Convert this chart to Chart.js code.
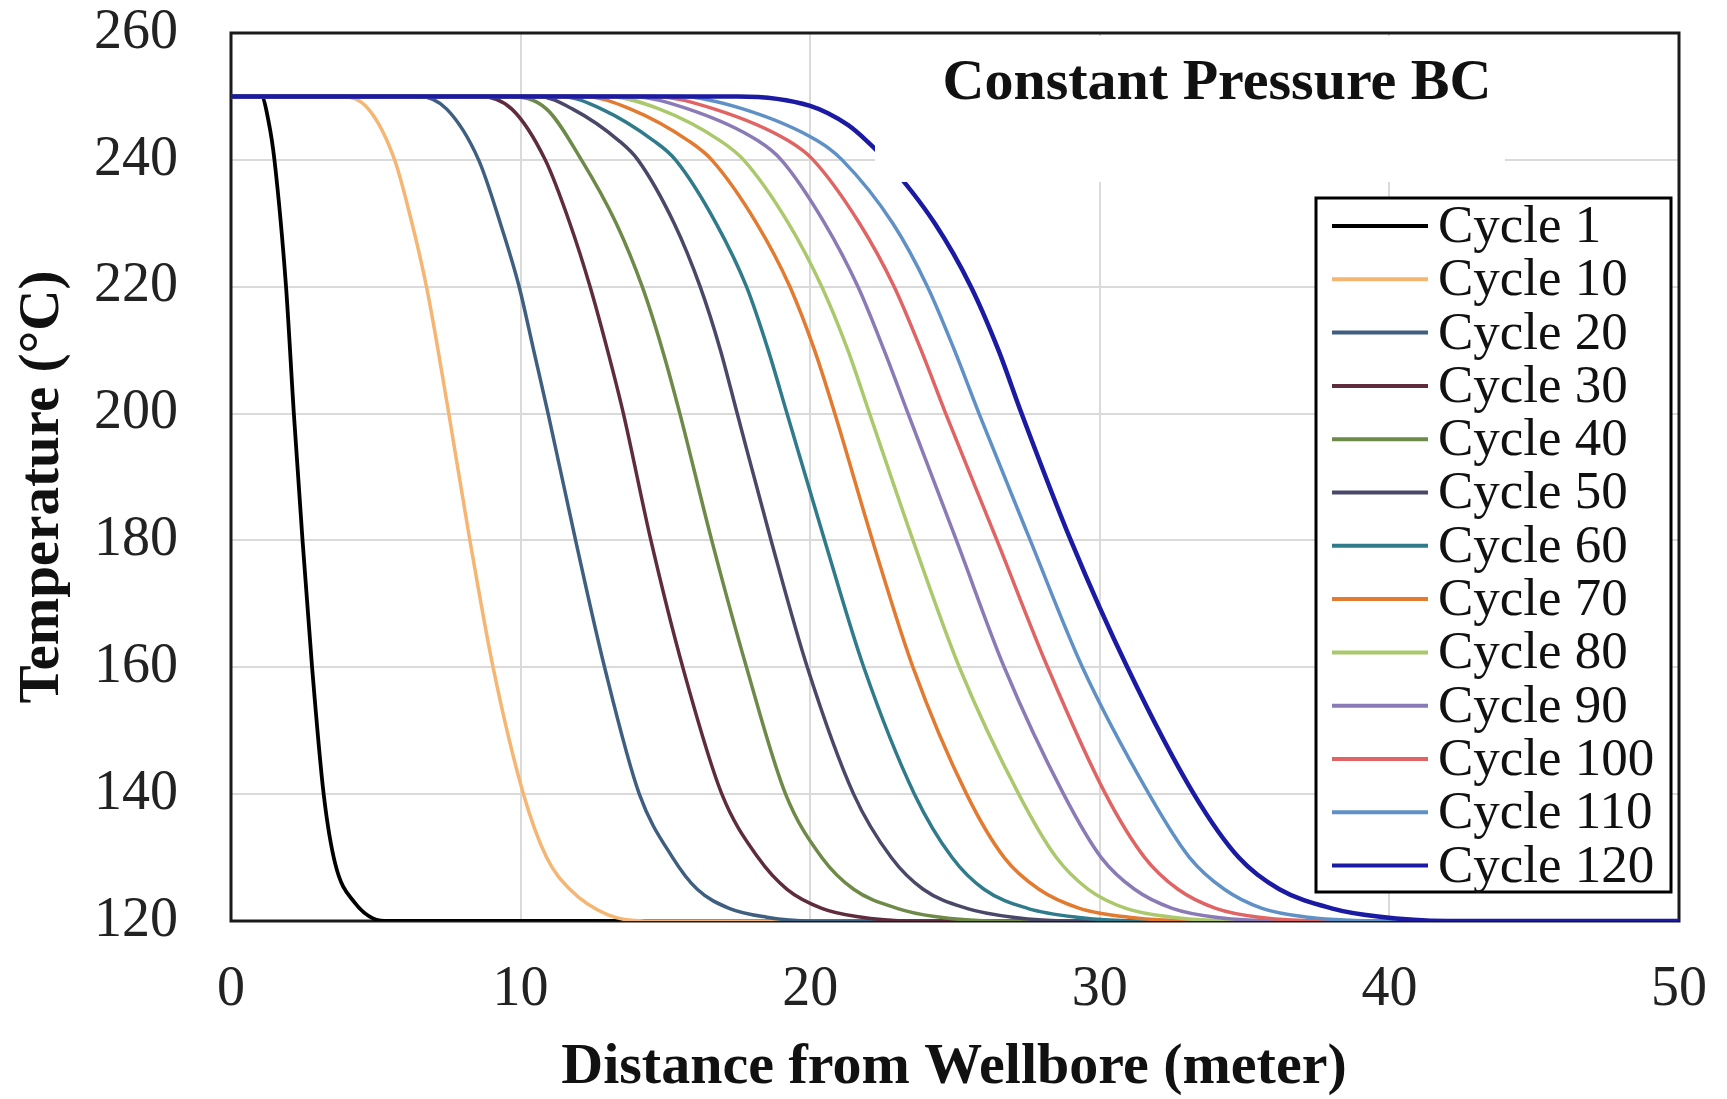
<!DOCTYPE html>
<html>
<head>
<meta charset="utf-8">
<script src="https://cdn.jsdelivr.net/npm/chart.js@4.4.1/dist/chart.umd.min.js"></script>
<style>
    html, body { margin: 0; padding: 0; background: #fff; }
    #wrap { width: 1727px; height: 1099px; }
</style>
</head>
<body>
<div id="wrap"><canvas id="chart" width="1727" height="1099"></canvas></div>
<script>
// Temperature profiles: [distance (m), temperature (°C)]
const cycleLabels = ['Cycle 1', 'Cycle 10', 'Cycle 20', 'Cycle 30', 'Cycle 40', 'Cycle 50', 'Cycle 60',
    'Cycle 70', 'Cycle 80', 'Cycle 90', 'Cycle 100', 'Cycle 110', 'Cycle 120'];

const cycle1 = [[0, 250], [1.05, 250], [1.3, 246], [1.5, 240], [1.9, 220], [2.17, 200], [2.47, 180], [2.8, 160], [3.2, 140], [3.6, 129], [4.25, 123], [5.3, 120], [50, 120]];
const cycle10 = [[0, 250], [3.8, 250], [4.75, 248], [5.65, 240], [6.25, 230], [6.75, 220], [7.15, 210], [7.52, 200], [8.25, 180], [9.05, 160], [10.1, 140], [10.9, 130], [11.7, 125], [13.0, 121], [14.3, 120], [50, 120]];
const cycle20 = [[0, 250], [6.5, 250], [7.45, 248], [8.55, 240], [9.3, 230], [9.95, 220], [10.45, 210], [10.95, 200], [11.9, 180], [12.9, 160], [14.1, 140], [15.25, 130], [16.1, 125], [17.2, 122], [18.5, 120.6], [20, 120], [50, 120]];
const cycle30 = [[0, 250], [8.6, 250], [9.7, 248], [10.85, 240], [11.7, 230], [12.4, 220], [13.0, 210], [13.55, 200], [14.5, 180], [15.6, 160], [16.95, 140], [18.2, 130], [19.2, 125], [20.4, 122], [21.6, 120.7], [23.5, 120], [50, 120]];
const cycle40 = [[0, 250], [9.6, 250], [10.9, 248], [12.1, 240], [13.3, 230], [14.2, 220], [14.9, 210], [15.5, 200], [16.6, 180], [17.8, 160], [19.15, 140], [20.4, 130], [21.5, 125], [23.0, 122], [24.3, 120.7], [26.5, 120], [50, 120]];
const cycle50 = [[0, 250], [10.6, 250], [11.8, 248], [13.4, 243], [14.05, 240], [15.3, 230], [16.2, 220], [16.9, 210], [17.48, 200], [18.65, 180], [19.9, 160], [21.5, 140], [22.8, 130], [23.9, 125], [25.4, 122], [27.0, 120.6], [29.0, 120], [50, 120]];
const cycle60 = [[0, 250], [11.4, 250], [12.8, 248], [14.6, 243], [15.35, 240], [16.75, 230], [17.8, 220], [18.55, 210], [19.2, 200], [20.5, 180], [21.85, 160], [23.6, 140], [24.9, 130], [26.0, 125], [27.5, 122], [29.2, 120.6], [31.5, 120], [50, 120]];
const cycle70 = [[0, 250], [12.2, 250], [13.8, 248], [15.8, 243], [16.6, 240], [18.15, 230], [19.3, 220], [20.15, 210], [20.85, 200], [22.15, 180], [23.55, 160], [25.4, 140], [26.7, 130], [27.9, 125], [29.3, 122], [31.0, 120.6], [33.5, 120], [50, 120]];
const cycle80 = [[0, 250], [13.0, 250], [14.8, 248], [16.9, 243], [17.7, 240], [19.25, 230], [20.4, 220], [21.3, 210], [22.05, 200], [23.55, 180], [25.15, 160], [27.2, 140], [28.5, 130], [29.6, 125], [30.9, 122], [32.5, 120.6], [35.0, 120], [50, 120]];
const cycle90 = [[0, 250], [13.8, 250], [15.8, 248], [18.2, 243], [19.0, 240], [20.5, 230], [21.65, 220], [22.55, 210], [23.38, 200], [25.05, 180], [26.7, 160], [28.75, 140], [30.05, 130], [31.2, 125], [32.5, 122], [34.0, 120.6], [36.5, 120], [50, 120]];
const cycle100 = [[0, 250], [14.6, 250], [16.7, 248], [19.25, 243], [20.1, 240], [21.7, 230], [22.9, 220], [23.83, 210], [24.68, 200], [26.45, 180], [28.2, 160], [30.2, 140], [31.55, 130], [32.7, 125], [34.0, 122], [35.5, 120.6], [38.0, 120], [50, 120]];
const cycle110 = [[0, 250], [15.5, 250], [17.7, 248], [20.25, 243], [21.1, 240], [22.85, 230], [24.05, 220], [24.98, 210], [25.83, 200], [27.6, 180], [29.4, 160], [31.7, 140], [33.1, 130], [34.3, 125], [35.6, 122], [37.2, 120.6], [40.0, 120], [50, 120]];
const cycle120 = [[0, 250], [17.5, 250], [20.0, 248.5], [21.3, 245.5], [21.95, 243], [22.6, 240], [24.3, 230], [25.55, 220], [26.5, 210], [27.3, 200], [29.0, 180], [30.95, 160], [33.25, 140], [34.8, 130], [36.2, 125], [38.0, 122], [39.6, 120.7], [42.0, 120], [50, 120]];

const cycleSeries = [cycle1, cycle10, cycle20, cycle30, cycle40, cycle50, cycle60,
    cycle70, cycle80, cycle90, cycle100, cycle110, cycle120];

const xTicks = [0, 10, 20, 30, 40, 50];
const yTicks = [120, 140, 160, 180, 200, 220, 240, 260];

const cycleColors = ['#000000', '#f5b673', '#3f5f80', '#5e2c3c', '#6e8a48', '#4a4868', '#2f7b8b',
    '#e27a30', '#abc96c', '#8a7bb6', '#e06464', '#5f90c6', '#1a1aa3'];
const cycleWidths = [3.8, 3.5, 3.5, 3.5, 3.5, 3.5, 3.5, 3.5, 3.5, 3.5, 3.5, 3.5, 4.5];

const SERIF = '"Liberation Serif", "Times New Roman", serif';

const framePlugin = {
    id: 'frame',
    beforeDatasetsDraw(chart) {
        const { ctx, chartArea: a } = chart;
        ctx.save();
        ctx.strokeStyle = '#1a1a1a';
        ctx.lineWidth = 3;
        ctx.strokeRect(a.left, a.top, a.right - a.left, a.bottom - a.top);
        ctx.restore();
    },
    afterDatasetsDraw(chart) {
        const { ctx } = chart;
        ctx.save();

        // blank area behind the caption
        ctx.fillStyle = '#ffffff';
        ctx.fillRect(875, 36, 630, 146);

        ctx.fillStyle = '#111';
        ctx.font = `bold 58px ${SERIF}`;
        ctx.textAlign = 'center';
        ctx.textBaseline = 'alphabetic';
        ctx.fillText('Constant Pressure BC', 1217, 99);

        // legend
        const box = { x: 1316, y: 198, w: 355, h: 694 };
        ctx.fillStyle = '#ffffff';
        ctx.fillRect(box.x, box.y, box.w, box.h);
        ctx.strokeStyle = '#000';
        ctx.lineWidth = 3;
        ctx.strokeRect(box.x, box.y, box.w, box.h);

        ctx.font = `53px ${SERIF}`;
        ctx.textAlign = 'left';
        ctx.textBaseline = 'middle';
        chart.data.datasets.forEach((ds, i) => {
            const y = 226 + i * 53.3;
            ctx.strokeStyle = ds.borderColor;
            ctx.lineWidth = 4;
            ctx.beginPath();
            ctx.moveTo(1332, y);
            ctx.lineTo(1428, y);
            ctx.stroke();
            ctx.fillStyle = '#111';
            ctx.fillText(ds.label, 1438, y + 2);
        });

        // axis titles
        ctx.fillStyle = '#111';
        ctx.font = `bold 58px ${SERIF}`;
        ctx.textAlign = 'center';
        ctx.textBaseline = 'alphabetic';
        ctx.fillText('Distance from Wellbore (meter)', 954, 1083);

        ctx.translate(43, 487);
        ctx.rotate(-Math.PI / 2);
        ctx.font = `bold 57px ${SERIF}`;
        ctx.textBaseline = 'middle';
        ctx.fillText('Temperature (°C)', 0, 0);
        ctx.restore();
    },
};

new Chart(document.getElementById('chart'), {
    type: 'line',
    data: {
        datasets: cycleSeries.map((series, i) => ({
            label: cycleLabels[i],
            data: series.map(([x, y]) => ({ x, y })),
            borderColor: cycleColors[i],
            borderWidth: cycleWidths[i],
            pointRadius: 0,
            fill: false,
            cubicInterpolationMode: 'monotone',
            order: cycleSeries.length - i,
        })),
    },
    options: {
        responsive: false,
        devicePixelRatio: 1,
        animation: false,
        layout: { padding: { top: 33, right: 48, left: 0, bottom: 0 } },
        plugins: {
            legend: { display: false },
            tooltip: { enabled: false },
        },
        scales: {
            x: {
                type: 'linear',
                min: 0,
                max: 50,
                afterFit: (scale) => {
                    scale.height = 178;
                    scale.paddingLeft = 0;
                    scale.paddingRight = 0;
                },
                afterBuildTicks: (scale) => { scale.ticks = xTicks.map((value) => ({ value })); },
                ticks: {
                    padding: 36,
                    color: '#222',
                    maxRotation: 0,
                    font: { family: SERIF, size: 56 },
                },
                grid: { color: '#dadada', lineWidth: 2, drawTicks: false },
                border: { display: false },
            },
            y: {
                min: 120,
                max: 260,
                afterFit: (scale) => {
                    scale.width = 231;
                    scale.paddingTop = 0;
                    scale.paddingBottom = 0;
                },
                afterBuildTicks: (scale) => { scale.ticks = yTicks.map((value) => ({ value })); },
                ticks: {
                    padding: 53,
                    color: '#222',
                    font: { family: SERIF, size: 56 },
                },
                grid: { color: '#dadada', lineWidth: 2, drawTicks: false },
                border: { display: false },
            },
        },
    },
    plugins: [framePlugin],
});
</script>
</body>
</html>
